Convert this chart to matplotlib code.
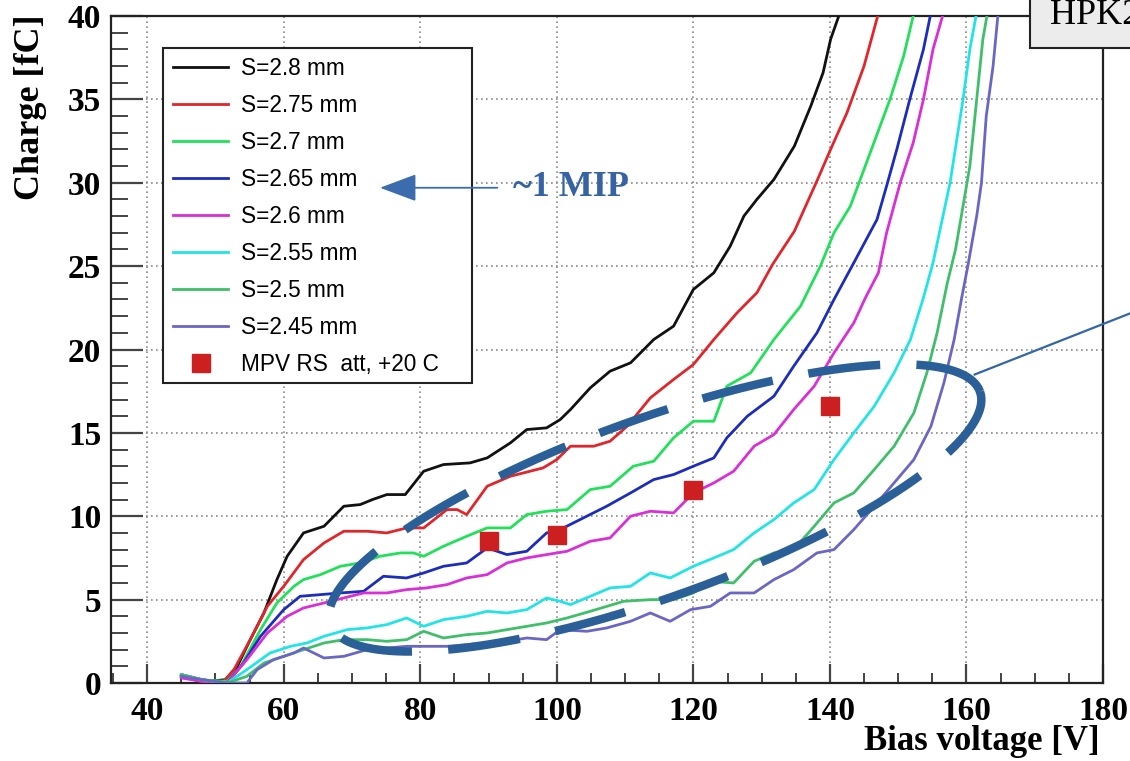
import numpy as np
import matplotlib
matplotlib.use("Agg")
import matplotlib.pyplot as plt
from matplotlib.patches import Rectangle
from matplotlib.ticker import MultipleLocator
from matplotlib.font_manager import FontProperties

# ---------------- data ----------------
labels = ["S=2.8 mm", "S=2.75 mm", "S=2.7 mm", "S=2.65 mm", "S=2.6 mm",
          "S=2.55 mm", "S=2.5 mm", "S=2.45 mm"]
colors = ["#111111", "#e0262b", "#22e05a", "#1c2dbb", "#d92fd6",
          "#22e3e6", "#3fbf6a", "#6a67c4"]

v_280 = [45, 47, 49, 51.5, 53.2, 55.1, 57.1, 59, 60.5, 62.9, 65.9, 68.8, 71.2, 73, 75.1, 77.8,
         80.5, 83.4, 87.3, 89.8, 93.2, 95.6, 98.5, 100.5, 102, 104.9, 107.8, 110.8, 114.2, 117.1,
         120, 123, 125.4, 127.4, 129.3, 131.8, 134.8, 137.2, 139, 140.1, 141.3]
q_280 = [0.5, 0.3, 0.1, 0.2, 1.0, 2.6, 4.2, 6.2, 7.6, 9.0, 9.4, 10.6, 10.7, 11.0, 11.3, 11.3,
         12.7, 13.1, 13.2, 13.5, 14.4, 15.2, 15.3, 15.8, 16.4, 17.7, 18.7, 19.2, 20.6, 21.4,
         23.6, 24.6, 26.2, 28.0, 29.0, 30.2, 32.2, 34.6, 36.6, 38.6, 40.0]

v_275 = [45, 47.8, 51.2, 52.7, 55.1, 57.6, 60, 62.9, 65.9, 68.8, 72.2, 75.1, 78, 80.5, 83.9, 85.4,
         86.8, 89.8, 93.2, 98, 100, 102, 105.4, 107.8, 110.3, 113.7, 117.1, 120, 123, 126.4,
         129.3, 131.6, 134.8, 138.2, 140.1, 142.5, 145, 147]
q_275 = [0.4, 0.1, 0.1, 0.8, 2.6, 4.6, 5.8, 7.4, 8.4, 9.1, 9.1, 9.0, 9.3, 9.3, 10.4, 10.4,
         10.1, 11.8, 12.4, 12.9, 13.4, 14.2, 14.2, 14.5, 15.4, 17.1, 18.2, 19.1, 20.6, 22.2,
         23.4, 25.1, 27.1, 30.2, 32.0, 34.2, 37.0, 40.0]

v_270 = [45, 47.3, 51.7, 53.7, 56.6, 59, 61.5, 62.9, 65.4, 68.3, 71.2, 74.1, 77.1, 79, 80.5, 83.4,
         86.8, 89.8, 93.2, 95.6, 98.5, 101.5, 104.9, 107.8, 111.2, 114.2, 117.1, 120, 123, 124.9,
         128.4, 131.8, 135.7, 138.6, 140.6, 143, 145.9, 148.8, 150.8, 152.2]
q_270 = [0.5, 0.2, 0.1, 1.0, 3.2, 4.8, 5.8, 6.2, 6.5, 7.0, 7.2, 7.6, 7.8, 7.8, 7.6, 8.2,
         8.8, 9.3, 9.3, 10.1, 10.3, 10.4, 11.6, 11.8, 13.0, 13.3, 14.7, 15.7, 15.7, 17.8,
         18.6, 20.6, 22.6, 25.0, 27.0, 28.6, 31.8, 35.0, 37.6, 40.0]

v_265 = [45, 48, 51.7, 54.1, 56.6, 60, 62.4, 65.4, 68.3, 71.7, 74.6, 78, 80.5, 83.4, 86.8, 89.8,
         92.7, 95.6, 98.5, 100, 103.4, 107.3, 110.8, 114.2, 117.1, 120, 123, 124.9, 127.9, 131.8,
         134.7, 138.1, 140.6, 143.5, 146.9, 148.3, 149.8, 151.7, 153.7, 154.7]
q_265 = [0.4, 0.2, 0.0, 1.2, 2.8, 4.4, 5.2, 5.3, 5.4, 5.5, 6.4, 6.3, 6.6, 7.0, 7.2, 8.1,
         7.7, 7.9, 9.0, 9.1, 9.8, 10.6, 11.4, 12.2, 12.5, 13.0, 13.5, 14.7, 16.0, 17.2,
         19.0, 21.0, 23.0, 25.2, 27.8, 29.8, 32.0, 35.0, 38.0, 40.0]

v_260 = [45, 48, 51.7, 54.6, 57.6, 60.5, 62.9, 65.9, 68.8, 71.7, 75.1, 78, 80.9, 83.9, 86.8, 89.8,
         92.7, 95.6, 98.5, 101.5, 104.9, 107.8, 110.8, 113.7, 117.1, 120, 123, 125.9, 128.9, 131.8,
         134.7, 137.7, 140.6, 143.5, 145.2, 147.1, 148.3, 150.3, 152.2, 153.7, 155.1, 156.5]
q_260 = [0.3, 0.1, 0.0, 1.4, 3.0, 4.0, 4.5, 4.8, 5.1, 5.4, 5.4, 5.6, 5.7, 5.9, 6.3, 6.5,
         7.2, 7.5, 7.7, 7.9, 8.5, 8.7, 10.0, 10.3, 10.2, 11.4, 12.0, 12.7, 14.2, 14.9,
         16.4, 17.8, 19.8, 21.6, 23.1, 24.6, 27.0, 30.0, 32.4, 35.0, 38.0, 40.0]

v_255 = [45, 48, 51.7, 54.6, 58, 61, 63.4, 65.9, 69.3, 72.2, 75.1, 78, 80.5, 83.4, 86.8, 89.8,
         92.7, 95.6, 98.5, 100.5, 102, 104.9, 107.8, 110.8, 113.7, 116.6, 120, 123, 125.9, 128.9,
         131.8, 134.7, 137.7, 140.6, 143.5, 146.5, 149.4, 151.8, 153.7, 155.1, 157.6, 159.5, 160.5, 161.4]
q_255 = [0.5, 0.2, 0.0, 0.8, 1.8, 2.2, 2.4, 2.8, 3.2, 3.3, 3.5, 3.9, 3.4, 3.8, 4.0, 4.3,
         4.2, 4.4, 5.1, 4.9, 4.7, 5.2, 5.7, 5.8, 6.6, 6.3, 7.0, 7.5, 8.0, 9.0,
         9.8, 10.8, 11.6, 13.4, 15.0, 16.6, 18.6, 20.6, 23.1, 25.2, 30.0, 35.0, 38.0, 40.0]

v_250 = [45, 48, 51.7, 54.6, 57.1, 60, 62.9, 65.9, 68.8, 72.2, 75.1, 78, 80.5, 83.4, 86.8, 89.8,
         92.7, 95.6, 98.5, 101.5, 104.9, 109.8, 113.7, 117.1, 120, 122.5, 125.9, 128.9, 131.8, 134.7,
         137.7, 140.6, 143.5, 146.5, 149.4, 152.3, 154.2, 155.7, 157.2, 158.4, 159.5, 160.5, 161.5,
         162.4, 163]
q_250 = [0.5, 0.2, 0.0, 0.4, 1.2, 1.6, 2.0, 2.4, 2.6, 2.6, 2.5, 2.6, 3.1, 2.7, 2.9, 3.0,
         3.2, 3.4, 3.6, 3.9, 4.3, 4.9, 5.0, 5.0, 5.4, 6.1, 6.0, 7.3, 7.8, 8.0,
         9.4, 10.8, 11.4, 12.8, 14.2, 16.2, 18.6, 21.0, 24.0, 26.0, 28.6, 31.0, 35.0,
         38.6, 40.0]

v_245 = [45, 48, 51.7, 54.6, 56.1, 58.5, 61.5, 62.9, 65.9, 68.8, 72.2, 75.1, 78, 80.9, 83.9, 86.8,
         89.8, 92.7, 95.6, 98.5, 100.5, 104.4, 107.3, 110.8, 113.7, 116.6, 119.6, 122.5, 125.4, 128.9,
         131.8, 134.7, 138.1, 140.6, 143.5, 146.5, 149.4, 152.3, 154.8, 156.7, 158.2, 159.3, 160.2,
         161.5, 162.2, 162.9, 163.9, 164.6]
q_245 = [0.4, 0.2, 0.0, 0.0, 0.8, 1.4, 1.8, 2.1, 1.5, 1.6, 2.0, 2.1, 2.2, 2.2, 2.2, 2.3,
         2.4, 2.5, 2.7, 2.6, 3.2, 3.1, 3.3, 3.7, 4.2, 3.7, 4.4, 4.6, 5.4, 5.4,
         6.2, 6.8, 7.8, 8.0, 9.2, 10.6, 12.0, 13.4, 15.4, 18.0, 20.6, 23.1, 25.0,
         28.0, 30.0, 34.0, 37.0, 40.0]

mpv_label = "MPV RS  att, +20 C"
mpv_v = [90, 100, 120, 140]
mpv_q = [8.5, 8.9, 11.6, 16.6]

series_v = [v_280, v_275, v_270, v_265, v_260, v_255, v_250, v_245]
series_q = [q_280, q_275, q_270, q_265, q_260, q_255, q_250, q_245]

# ---------------- figure ----------------
plt.rcParams["font.family"] = ["Liberation Serif", "DejaVu Serif"]
plt.rcParams["font.weight"] = "bold"

W, H = 1130, 761
fig = plt.figure(figsize=(W / 100, H / 100), dpi=100)
fig.patch.set_facecolor("white")
ax = fig.add_axes([111 / W, 1 - 683 / H, (1103 - 111) / W, (683 - 16) / H])

ax.set_xlim(34.7, 180)
ax.set_ylim(0, 40)
ax.xaxis.set_major_locator(MultipleLocator(20))
ax.xaxis.set_minor_locator(MultipleLocator(5))
ax.yaxis.set_major_locator(MultipleLocator(5))
ax.yaxis.set_minor_locator(MultipleLocator(1))
ax.grid(True, which="major", color="#8a8a8a", linestyle=(0, (1, 2)), linewidth=1.2)
ax.set_axisbelow(True)

ax.tick_params(axis="y", which="major", direction="in", length=23, width=1.6,
               color="#444444", pad=7, labelsize=24)
ax.tick_params(axis="y", which="minor", direction="in", length=12, width=1.4, color="#444444")
ax.tick_params(axis="x", which="major", direction="in", length=14, width=1.6,
               color="#444444", pad=9, labelsize=24)
ax.tick_params(axis="x", which="minor", direction="in", length=7, width=1.4, color="#444444")
for sp in ax.spines.values():
    sp.set_linewidth(1.6)
    sp.set_color("#222222")

handles = []
for v, q, c, lab in zip(series_v, series_q, colors, labels):
    ln, = ax.plot(v, q, color=c, lw=2.0, label=lab, zorder=3)
    handles.append(ln)
sq, = ax.plot(mpv_v, mpv_q, linestyle="none", marker="s", markersize=13,
              color="#cc2020", label=mpv_label, zorder=5)
handles.append(sq)

# legend with a fixed box
ax.add_patch(Rectangle((163 / W, 1 - 383 / H), (472 - 163) / W, (383 - 48) / H,
                       transform=fig.transFigure, facecolor="white", edgecolor="#222222",
                       lw=1.5, zorder=6, clip_on=False))
leg = ax.legend(handles=handles, loc="upper left", bbox_to_anchor=(173 / W, 1 - 57 / H),
                bbox_transform=fig.transFigure, frameon=False, borderpad=0, borderaxespad=0,
                handlelength=2.43, handletextpad=0.58, labelspacing=0.62, numpoints=1,
                prop=FontProperties(family="Liberation Sans", size=16.3, weight="normal"))
leg.set_zorder(7)

# axis titles (ROOT style)
fig.text(31 / W, 1 - 15 / H, "Charge [fC]", rotation=90, ha="center", va="top",
         fontsize=26, fontweight="bold")
fig.text(1100 / W, 1 - 742 / H, "Bias voltage [V]", ha="right", va="center",
         fontsize=25, fontweight="bold")

# annotations
blue = "#2b5f97"
ax.annotate("", xy=(74.1, 29.7), xytext=(91.3, 29.7),
            arrowprops=dict(arrowstyle="-|>,head_length=2.3,head_width=0.86",
                            mutation_scale=10, color="#3b6cae", lw=1.3,
                            shrinkA=0, shrinkB=0), zorder=8)
ax.text(93.6, 29.7, "~1 MIP", color="#3563a3", fontsize=26, fontweight="bold",
        va="center", ha="left", zorder=8)

# dashed ellipse: centre in data units, size/rotation in pixels
cxp, cyp = ax.transData.transform((114.4, 10.5))
a_px, b_px, th = 345.0, 89.5, np.deg2rad(19.7)
t = np.linspace(0, 2 * np.pi, 721)
ex = cxp + a_px * np.cos(th) * np.cos(t) - b_px * np.sin(th) * np.sin(t)
ey = cyp + a_px * np.sin(th) * np.cos(t) + b_px * np.cos(th) * np.sin(t)
perim = np.sum(np.hypot(np.diff(ex), np.diff(ey)))
dash_px = perim / 20.5
lw_pt = 6.1
lw_px = lw_pt * fig.dpi / 72
ell_data = ax.transData.inverted().transform(np.column_stack([ex, ey]))
ell_line, = ax.plot(ell_data[:, 0], ell_data[:, 1], color=blue, lw=lw_pt, clip_on=False,
                    zorder=9, solid_capstyle="butt", dash_capstyle="butt")
ell_line.set_dashes([dash_px / lw_px, 0.5 * dash_px / lw_px])
ax.plot([161.2, 184.8], [18.5, 22.3], color="#3366a8", lw=1.6, clip_on=False, zorder=9)

# HPK2 box
fig.add_artist(Rectangle((1030 / W, 1 - 48 / H), 0.2, 0.2, transform=fig.transFigure,
                         facecolor="#ececec", edgecolor="#222222", lw=1.5, zorder=10))
fig.text(1050 / W, 1 - 16 / H, "HPK2", ha="left", va="center", fontsize=26,
         fontweight="normal", zorder=11)

fig.savefig("out.png", dpi=100)
